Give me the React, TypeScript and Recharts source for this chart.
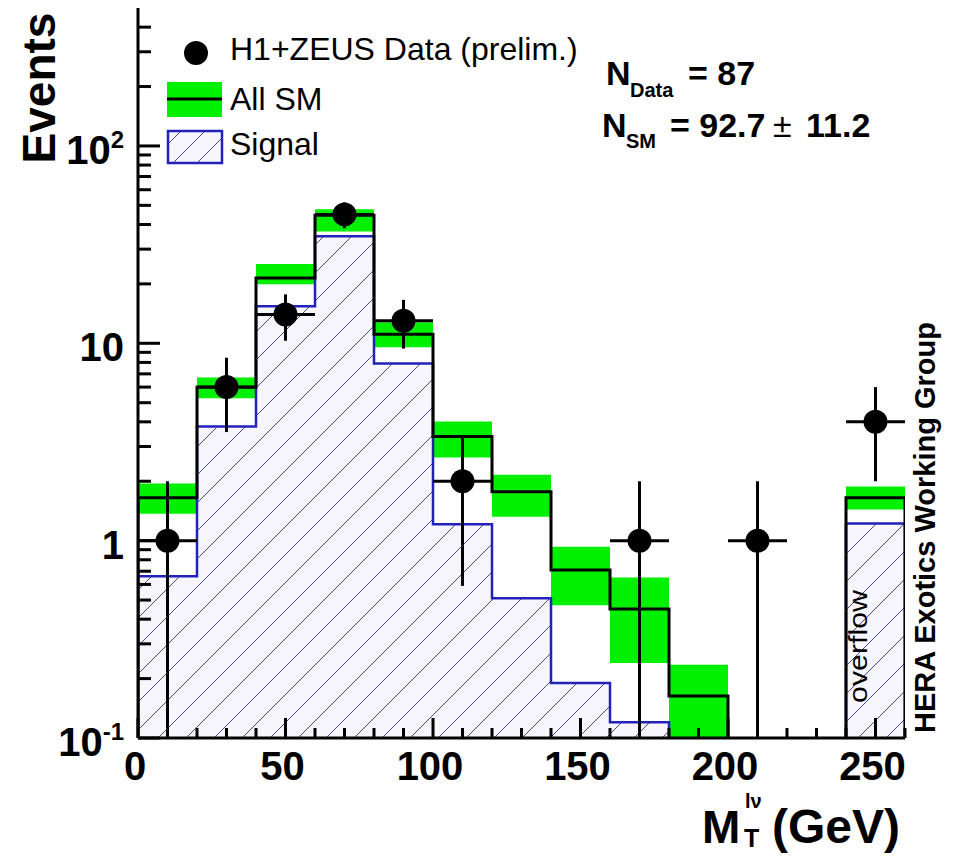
import React from 'react'
import { ComposedChart, Line, Area, Scatter, ErrorBar, XAxis, YAxis } from 'recharts'

const FONT = '"Liberation Sans", Arial, Helvetica, sans-serif'

// bin edges in GeV, last bin (240-260) is the overflow bin
const binEdges = [0, 20, 40, 60, 80, 100, 120, 140, 160, 180, 200, 220, 240, 260]
const smTotal = [1.65, 5.98, 21.4, 44.6, 11.1, 3.37, 1.77, 0.71, 0.45, 0.163, null, null, 1.65]
const smLow = [1.37, 5.26, 19.9, 36.9, 9.54, 2.64, 1.32, 0.47, 0.24, 0.08, null, null, 1.44]
const smHigh = [1.95, 6.7, 25.2, 47.8, 12.8, 4.02, 2.16, 0.93, 0.65, 0.235, null, null, 1.88]
const signal = [0.66, 3.79, 15.4, 34.9, 7.9, 1.21, 0.51, 0.19, 0.12, null, null, null, 1.22]

const dataX = [10, 30, 50, 70, 90, 110, 170, 210, 250]
const dataY = [1, 6, 14, 45, 13, 2, 1, 1, 4]
const dataLow = [0, 3.55, 10.3, 38.3, 9.4, 0.59, 0, 0, 2.0]
const dataHigh = [2.0, 8.45, 17.7, 51.7, 16.6, 3.41, 2.0, 2.0, 6.0]

const xDomain = [0, 260]
const yDomain = [0.1, 500]
const xTicks = [0, 10, 20, 30, 40, 50, 60, 70, 80, 90, 100, 110, 120, 130, 140, 150, 160, 170, 180, 190, 200, 210, 220, 230, 240, 250, 260]
const xTickLabels: Record<string, string> = { '0': '0', '50': '50', '100': '100', '150': '150', '200': '200', '250': '250' }
const yTicks = [0.1, 0.2, 0.3, 0.4, 0.5, 0.6, 0.7, 0.8, 0.9, 1, 2, 3, 4, 5, 6, 7, 8, 9, 10, 20, 30, 40, 50, 60, 70, 80, 90, 100, 200, 300, 400]
const yTickLabels: Record<string, [string, string]> = { '0.1': ['10', '-1'], '1': ['1', ''], '10': ['10', ''], '100': ['10', '2'] }

const GREEN = '#00f000'
const BLUE = '#2222bb'
const yFloor = yDomain[0]
const frameLine = { stroke: '#000', strokeWidth: 3 }

type Row = { x: number; y: number | null | number[] }

// histogram outline: flat top per bin, drop to the axis floor where the histogram ends
function stepRows(values: (number | null)[]): Row[] {
  const rows: Row[] = []
  values.forEach((v, i) => {
    if (v == null) return
    const prev = i > 0 ? values[i - 1] : null
    const next = i < values.length - 1 ? values[i + 1] : null
    if (prev == null) rows.push({ x: binEdges[i], y: yFloor })
    rows.push({ x: binEdges[i], y: v }, { x: binEdges[i + 1], y: v })
    if (next == null) rows.push({ x: binEdges[i + 1], y: yFloor }, { x: binEdges[i + 1], y: null })
  })
  return rows
}

function bandRows(lo: (number | null)[], hi: (number | null)[]): Row[] {
  const rows: Row[] = []
  lo.forEach((l, i) => {
    const h = hi[i]
    if (l == null || h == null) return
    rows.push({ x: binEdges[i], y: [l, h] }, { x: binEdges[i + 1], y: [l, h] })
    if (i === lo.length - 1 || lo[i + 1] == null) rows.push({ x: binEdges[i + 1], y: null })
  })
  return rows
}

const smRows = stepRows(smTotal)
const sigRows = stepRows(signal)
const bandData = bandRows(smLow, smHigh)
const halfBin = (binEdges[1] - binEdges[0]) / 2
const points = dataX.map((x, i) => ({
  x,
  y: dataY[i],
  ex: [halfBin, halfBin],
  ey: [dataY[i] - Math.max(dataLow[i], yFloor), dataHigh[i] - dataY[i]],
}))

function XTick(props: any) {
  const { x, y, payload } = props
  const lab = xTickLabels[String(payload.value)]
  return (
    <g>
      <line x1={x} x2={x} y1={y} y2={y - (lab ? 20 : 10)} stroke="#000" strokeWidth={3} />
      {lab && (
        <text x={x - 3} y={y + 42} textAnchor="middle" fontFamily={FONT} fontWeight="bold" fontSize={40} fill="#000">
          {lab}
        </text>
      )}
    </g>
  )
}

function YTick(props: any) {
  const { x, y, payload } = props
  const lab = yTickLabels[String(payload.value)]
  return (
    <g>
      <line x1={x} x2={x + (lab ? 22 : 13)} y1={y} y2={y} stroke="#000" strokeWidth={3} />
      {lab && (
        <text x={x - 14} y={y + 18} textAnchor="end" fontFamily={FONT} fontWeight="bold" fontSize={40} fill="#000">
          {lab[0]}
          {lab[1] && <tspan dy={-16} fontSize={24}>{lab[1]}</tspan>}
        </text>
      )}
    </g>
  )
}

const Dot = (p: any) => <circle cx={p.cx} cy={p.cy} r={12} fill="#000" />

export default function App() {
  return (
    <div style={{ position: 'absolute', left: 0, top: 0, width: 957, height: 856, background: '#fff' }}>
      <ComposedChart width={957} height={856} margin={{ top: 8, right: 52, bottom: 0, left: 0 }}>
        <defs>
          <pattern id="hatch" patternUnits="userSpaceOnUse" width={28} height={28}>
            <rect width={28} height={28} fill="#f6f6fc" />
            <path d="M0,28 L28,0 M-7,7 L7,-7 M21,35 L35,21" stroke="#4a4a85" strokeWidth={1} />
          </pattern>
        </defs>
        <XAxis type="number" dataKey="x" domain={xDomain} ticks={xTicks} interval={0} height={118}
          axisLine={frameLine} tickLine={false} tickSize={0} tickMargin={0} tick={<XTick />} allowDataOverflow />
        <XAxis xAxisId="top" orientation="top" type="number" dataKey="x" domain={xDomain} height={0}
          axisLine={frameLine} tickLine={false} tick={false} />
        <YAxis type="number" dataKey="y" scale="log" domain={yDomain} ticks={yTicks} interval={0} width={138}
          axisLine={frameLine} tickLine={false} tickSize={0} tickMargin={0} tick={<YTick />} allowDataOverflow />
        <YAxis yAxisId="right" orientation="right" type="number" scale="log" domain={yDomain} width={0}
          axisLine={frameLine} tickLine={false} tick={false} />
        <Area data={bandData} dataKey="y" type="linear" stroke="none" fill={GREEN} fillOpacity={1} isAnimationActive={false} />
        <Area data={sigRows} dataKey="y" type="linear" stroke={BLUE} strokeWidth={2.5} fill="url(#hatch)" fillOpacity={1} isAnimationActive={false} />
        <Line data={smRows} dataKey="y" type="linear" stroke="#000" strokeWidth={3} dot={false} activeDot={false} isAnimationActive={false} />
        <Scatter data={points} dataKey="y" shape={Dot} isAnimationActive={false}>
          <ErrorBar dataKey="ey" direction="y" width={0} stroke="#000" strokeWidth={3} isAnimationActive={false} />
          <ErrorBar dataKey="ex" direction="x" width={0} stroke="#000" strokeWidth={3} isAnimationActive={false} />
        </Scatter>
      </ComposedChart>
      <svg width={957} height={856} style={{ position: 'absolute', left: 0, top: 0, pointerEvents: 'none' }}>
        <defs>
          <pattern id="hatchLegend" patternUnits="userSpaceOnUse" width={24} height={24}>
            <rect width={24} height={24} fill="#f6f6fc" />
            <path d="M0,24 L24,0 M-6,6 L6,-6 M18,30 L30,18" stroke="#4a4a85" strokeWidth={1} />
          </pattern>
        </defs>
        <g fontFamily={FONT} fill="#000">
          <text transform="translate(55,88) rotate(-90)" textAnchor="middle" fontWeight="bold" fontSize={46}>Events</text>

          <circle cx={196} cy={53} r={12} fill="#000" />
          <text x={230} y={60} fontSize={32}>H1+ZEUS Data (prelim.)</text>
          <rect x={167} y={82} width={55} height={35} fill={GREEN} />
          <line x1={167} x2={222} y1={99} y2={99} stroke="#000" strokeWidth={3} />
          <text x={230} y={110} fontSize={32}>All SM</text>
          <rect x={168} y={131} width={54} height={32} fill="url(#hatchLegend)" stroke={BLUE} strokeWidth={2.5} />
          <text x={230} y={155} fontSize={32}>Signal</text>

          <text x={606} y={85} fontSize={34} fontWeight="bold">N</text>
          <text x={630} y={97} fontSize={20} fontWeight="bold">Data</text>
          <text x={688} y={85} fontSize={34} fontWeight="bold">= 87</text>
          <text x={602} y={137} fontSize={34} fontWeight="bold">N</text>
          <text x={626} y={148} fontSize={20} fontWeight="bold">SM</text>
          <text x={670} y={137} fontSize={34} fontWeight="bold">= 92.7</text>
          <text x={773} y={137} fontSize={34}>±</text>
          <text x={806} y={137} fontSize={34} fontWeight="bold">11.2</text>

          <text x={702} y={843} fontSize={46} fontWeight="bold">M</text>
          <text x={745} y={808} fontSize={20} fontWeight="bold">lν</text>
          <text x={744} y={847} fontSize={25} fontWeight="bold">T</text>
          <text x={900} y={843} textAnchor="end" fontSize={48} fontWeight="bold">(GeV)</text>

          <text transform="translate(935,733) rotate(-90)" fontSize={29} fontWeight="bold" textLength={411} lengthAdjust="spacingAndGlyphs">HERA Exotics Working Group</text>
          <text transform="translate(867,703) rotate(-90)" fontSize={25} textLength={113} lengthAdjust="spacingAndGlyphs">overflow</text>
        </g>
      </svg>
    </div>
  )
}
